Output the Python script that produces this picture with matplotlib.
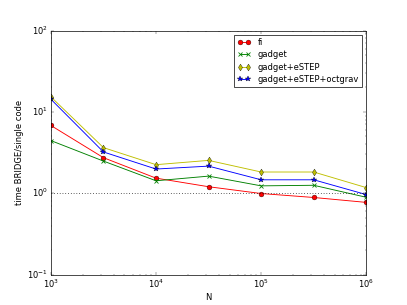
import matplotlib
matplotlib.use("Agg")
import matplotlib.pyplot as plt

plt.style.use('classic')

N = [1e3, 10**3.5, 1e4, 10**4.5, 1e5, 10**5.5, 1e6]
fi = [6.8, 2.73, 1.53, 1.20, 0.99, 0.885, 0.77]
gadget = [4.43, 2.48, 1.42, 1.62, 1.23, 1.25, 0.89]
gadget_estep = [15.3, 3.63, 2.24, 2.53, 1.82, 1.82, 1.17]
gadget_estep_octgrav = [14.3, 3.21, 1.98, 2.15, 1.46, 1.46, 0.96]

fig = plt.figure(figsize=(8.14, 6.1))
ax = fig.add_subplot(111)

lw = 1.3
ms = 7
ax.loglog(N, fi, 'r-o', label='fi', lw=lw, ms=ms)
ax.loglog(N, gadget, 'g-x', label='gadget', lw=lw, ms=ms, mew=1.2)
ax.loglog(N, gadget_estep, 'y-d', label='gadget+eSTEP', lw=lw, ms=ms)
ax.loglog(N, gadget_estep_octgrav, 'b-*', label='gadget+eSTEP+octgrav', lw=lw, ms=ms + 1)
ax.axhline(1.0, color='k', linestyle=':', lw=1.2)

ax.set_xlim(1e3, 1e6)
ax.set_ylim(0.1, 100)
ax.set_xlabel('N')
ax.set_ylabel('time BRIDGE/single code')
ax.legend(loc='upper right', fontsize=12, handlelength=1.6, labelspacing=0.4)

fig.savefig('out.png', dpi=50)
